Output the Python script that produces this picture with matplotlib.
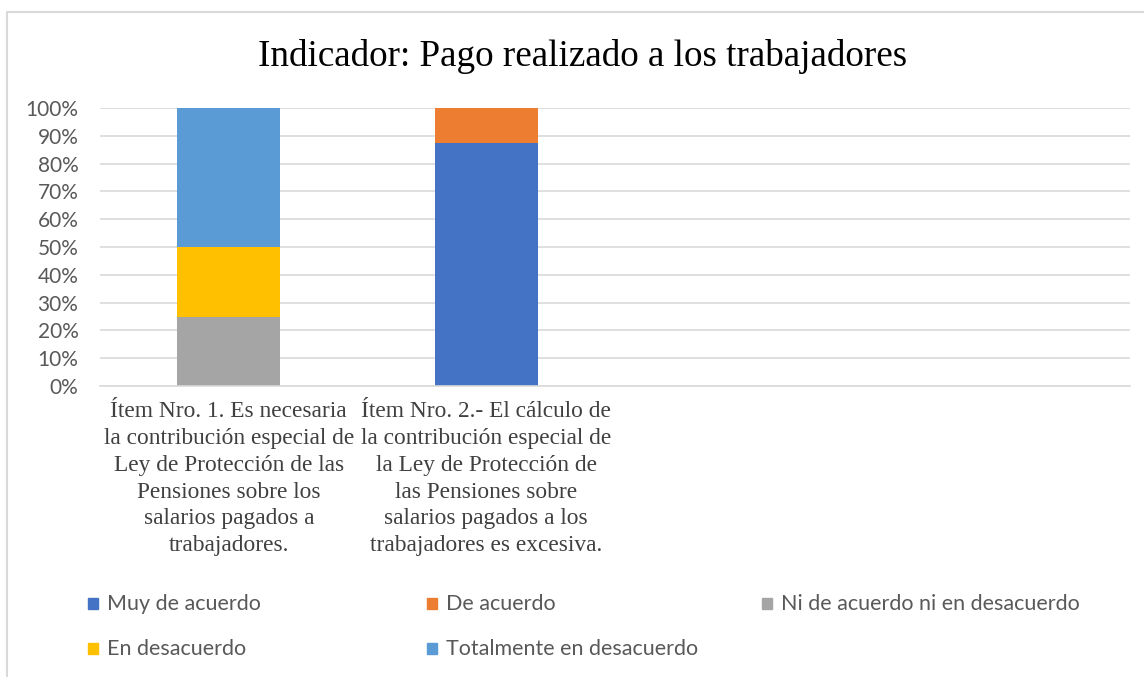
import matplotlib
matplotlib.use("Agg")
import matplotlib.pyplot as plt
from matplotlib.lines import Line2D
from matplotlib.patches import Rectangle
import numpy as np

categories = [
    "Ítem Nro. 1. Es necesaria\nla contribución especial de\nLey de Protección de las\nPensiones sobre los\nsalarios pagados a\ntrabajadores.",
    "Ítem Nro. 2.- El cálculo de\nla contribución especial de\nla Ley de Protección de\nlas Pensiones sobre\nsalarios pagados a los\ntrabajadores es excesiva.",
    "",
    "",
]
series_names = ["Muy de acuerdo", "De acuerdo", "Ni de acuerdo ni en desacuerdo",
                "En desacuerdo", "Totalmente en desacuerdo"]
muy_de_acuerdo = [0, 87.5, 0, 0]
de_acuerdo = [0, 12.5, 0, 0]
ni_ni = [25, 0, 0, 0]
en_desacuerdo = [25, 0, 0, 0]
totalmente = [50, 0, 0, 0]
values = [muy_de_acuerdo, de_acuerdo, ni_ni, en_desacuerdo, totalmente]
colors = ["#4472C4", "#ED7D31", "#A5A5A5", "#FFC000", "#5B9BD5"]
yticks = [0, 10, 20, 30, 40, 50, 60, 70, 80, 90, 100]
title = "Indicador: Pago realizado a los trabajadores"

W, H = 1144, 677
fig = plt.figure(figsize=(W / 100, H / 100), dpi=100)
ax = fig.add_axes([100 / W, 1 - 386 / H, 1030 / W, 278 / H])

x = np.arange(len(categories))
bottom = np.zeros(len(categories))
for vals, col, name in zip(values, colors, series_names):
    ax.bar(x, vals, width=0.40, bottom=bottom, color=col, label=name, zorder=2)
    bottom += np.array(vals)

ax.set_xlim(-0.5, len(categories) - 0.5)
ax.set_ylim(0, 100)
ax.set_yticks(yticks)
ax.set_yticklabels([f"{t}%" for t in yticks], fontsize=15, color="#595959",
                   family="Lato")
ax.yaxis.grid(True, color="#D9D9D9", linewidth=1.2, zorder=0)
ax.set_axisbelow(True)
for s in ["top", "right", "left"]:
    ax.spines[s].set_visible(False)
ax.spines["bottom"].set_color("#D9D9D9")
ax.spines["bottom"].set_linewidth(1.2)
ax.tick_params(axis="y", length=0, pad=15.5)
ax.tick_params(axis="x", length=0, pad=11)
ax.set_xticks(x)
ax.set_xticklabels(categories, fontsize=16.8, color="#404040",
                   family="Liberation Serif", linespacing=1.36, va="top")

fig.text(583 / W, 1 - 57 / H, title, ha="center", va="center",
         fontsize=26.7, family="Liberation Serif", color="#000000")

# legend (manual layout)
leg_pos = [(88, 604), (427, 604), (762, 604), (88, 649), (427, 649)]
for (lx, ly), col, name in zip(leg_pos, colors, series_names):
    fig.add_artist(Rectangle((lx / W, 1 - (ly + 5) / H), 10 / W, 11 / H,
                             transform=fig.transFigure, color=col))
    fig.text((lx + 19) / W, 1 - ly / H, name, ha="left", va="center",
             fontsize=15.5, family="Lato", color="#595959")

# outer frame
fig.add_artist(Line2D([7 / W, 7 / W, 1.0], [0.0, 1 - 12 / H, 1 - 12 / H],
                      transform=fig.transFigure, color="#D9D9D9", linewidth=1.5))

fig.savefig("out.png", dpi=100)
